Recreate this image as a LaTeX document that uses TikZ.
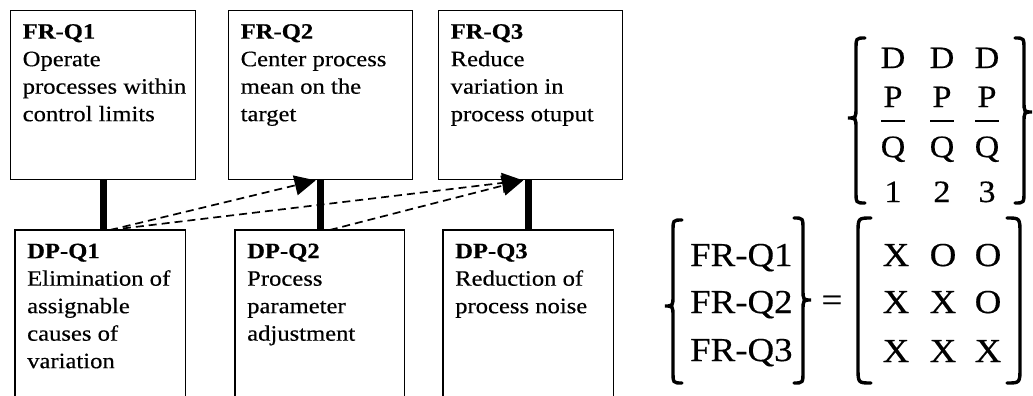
\documentclass[tikz,border=0pt]{standalone}
\usepackage{fontspec}
\setmainfont{Liberation Serif}[FakeStretch=1.12,FakeBold=0.4]
\newfontfamily\matfont{Liberation Serif}[FakeStretch=1.1,FakeBold=0.4]
\usetikzlibrary{arrows.meta,calc}

% text block of a requirement / parameter box
\newcommand\boxbody[3]{%
  \parbox[c][#2][t]{#1}{\raggedright\leftskip=12pt
    \fontsize{22}{27.5}\selectfont\rule{0pt}{28pt}#3}}

% delimiters: stem x, top y, bottom y (, cusp y)
\newcommand\drawLBrace[4]{%
  \draw[delim] ({#1+9},#2) .. controls (#1,#2) .. (#1,{#2+12})
    -- (#1,{#4-11}) .. controls (#1,#4) .. ({#1-8},#4)
    .. controls (#1,#4) .. (#1,{#4+11})
    -- (#1,{#3-12}) .. controls (#1,#3) .. ({#1+9},#3);}
\newcommand\drawRBrace[4]{%
  \draw[delim] ({#1-9},#2) .. controls (#1,#2) .. (#1,{#2+12})
    -- (#1,{#4-11}) .. controls (#1,#4) .. ({#1+8},#4)
    .. controls (#1,#4) .. (#1,{#4+11})
    -- (#1,{#3-12}) .. controls (#1,#3) .. ({#1-9},#3);}
\newcommand\drawLParen[3]{%
  \draw[delim] ({#1+13},#2) .. controls (#1,#2) .. (#1,{#2+16})
    -- (#1,{#3-16}) .. controls (#1,#3) .. ({#1+13},#3);}
\newcommand\drawRParen[3]{%
  \draw[delim] ({#1-13},#2) .. controls (#1,#2) .. (#1,{#2+16})
    -- (#1,{#3-16}) .. controls (#1,#3) .. ({#1-13},#3);}

\begin{document}
\begin{tikzpicture}[x=1pt,y=-1pt,
  frbox/.style={draw,line width=1.4pt,inner sep=0pt,anchor=north west},
  dpbox/.style={inner sep=0pt,anchor=north west},
  frame/.style={line width=1.4pt},
  stem/.style={line width=7pt},
  link/.style={line width=1.7pt,dash pattern=on 8pt off 5pt,
    -{Triangle[length=21pt,width=20pt]}},
  delim/.style={line width=3.4pt,line cap=round},
  ent/.style={font=\matfont\fontsize{33.5}{33.5}\selectfont,inner sep=0pt,anchor=base},
  dpent/.style={font=\matfont\fontsize{31}{31}\selectfont,inner sep=0pt,anchor=base},
  bar/.style={line width=2pt}]
\useasboundingbox (0,0) rectangle (1033,396);

% functional requirements
\node[frbox] (fr1) at (10,10) {\boxbody{185pt}{169pt}{\textbf{FR-Q1}\\Operate\\processes within\\control limits}};
\node[frbox] (fr2) at (228,10) {\boxbody{184pt}{169pt}{\textbf{FR-Q2}\\Center process\\mean on the\\target}};
\node[frbox] (fr3) at (438,10) {\boxbody{184pt}{169pt}{\textbf{FR-Q3}\\Reduce\\variation in\\process otuput}};

% design parameters (open at the bottom)
\node[dpbox] (dp1) at (15,230) {\boxbody{170pt}{166pt}{\textbf{DP-Q1}\\Elimination of\\assignable\\causes of\\variation}};
\node[dpbox] (dp2) at (235,230) {\boxbody{169pt}{166pt}{\textbf{DP-Q2}\\Process\\parameter\\adjustment}};
\node[dpbox] (dp3) at (443,230) {\boxbody{170pt}{166pt}{\textbf{DP-Q3}\\Reduction of\\process noise}};
\foreach \n in {dp1,dp2,dp3}
  \draw[frame] (\n.south west) -- (\n.north west) -- (\n.north east) -- (\n.south east);

% direct mapping FR -> DP
\draw[stem] (fr1.south) -- (fr1.south |- dp1.north);
\draw[stem] (fr2.south) -- (fr2.south |- dp2.north);
\draw[stem] (dp3.north |- fr3.south) -- (dp3.north);

% coupling influences
\coordinate (s1) at ([xshift=95pt]dp1.north west);
\coordinate (s2) at ([xshift=10pt]dp2.north);
\coordinate (t2) at ([xshift=-5pt]fr2.south);
\coordinate (t3) at ([xshift=-5pt]dp3.north |- fr3.south);
\draw[link] (s1) -- (t2);
\draw[link] (s1) -- (t3);
\draw[link] (s2) -- (t3);

% design matrix: DP vector
\drawLBrace{856}{38}{203}{118}
\drawRBrace{1024}{38}{203}{112}
\foreach \c/\x in {1/893,2/942,3/987}{
  \node[dpent] (d\c) at (\x,68) {D};
  \node[dpent] (p\c) at (\x,107) {P};
  \node[dpent] (q\c) at (\x,157) {Q};
  \node[dpent] (n\c) at (\x,202) {\c};
  \draw[bar] ([xshift=-12pt,yshift=-14pt]p\c.base) -- ([xshift=12pt,yshift=-14pt]p\c.base);
}

% FR vector
\drawLBrace{673}{220}{383}{306}
\drawRBrace{803}{218}{383}{300}
\node[ent,anchor=base west] (f1) at (690,266) {FR-Q1};
\node[ent,anchor=base west] (f2) at (690,313) {FR-Q2};
\node[ent,anchor=base west] (f3) at (690,361) {FR-Q3};
\node[ent] (eq) at (832,311) {=};

% design matrix
\drawLParen{858}{218}{383}
\drawRParen{1020}{218}{383}
\foreach \r/\y/\a/\b/\cc in {1/266/X/O/O,2/313/X/X/O,3/362/X/X/X}{
  \node[ent] (m\r a) at (896,\y) {\a};
  \node[ent] (m\r b) at (943,\y) {\b};
  \node[ent] (m\r c) at (988,\y) {\cc};
}
\end{tikzpicture}
\end{document}
